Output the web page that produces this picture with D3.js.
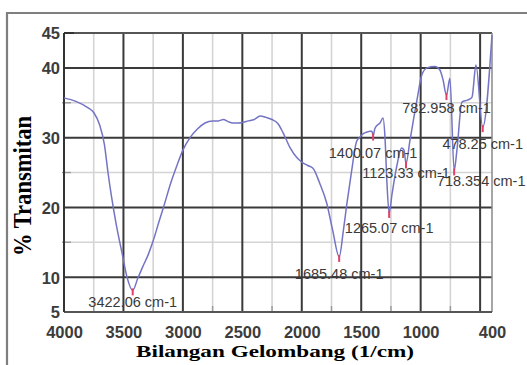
<!DOCTYPE html>
<html><head><meta charset="utf-8">
<script src="https://cdn.jsdelivr.net/npm/d3@7"></script>
<style>
html,body{margin:0;padding:0;background:#fff;}
svg{display:block;}
</style></head>
<body>
<svg id="c" width="527" height="365"></svg>
<script>
// ---- data ----
const wavenumber = [4000,3900,3800,3750,3700,3660,3630,3600,3560,3510,3470,3422.06,3380,3340,3290,3250,3200,3160,3100,3050,3000,2940,2880,2814,2750,2700,2660,2620,2580,2530,2495,2450,2400,2350,2300,2250,2200,2160,2100,2040,2000,1950,1906,1850,1790,1740,1685.48,1650,1620,1580,1540,1510,1480,1452,1426,1410,1400.07,1385,1370,1342,1317,1300,1285,1265.07,1240,1200,1160,1140,1123.33,1090,1031,990,947,880,838,812,782.958,754,718.354,695,653,602,568,535,478.25,400];
const transmittance = [35.7,35.2,34.3,33.6,31.8,29.0,25.0,21.5,17.5,13.3,10.0,8.1,9.8,11.4,13.3,15.2,18.0,20.2,23.6,26.0,28.2,30.0,31.2,32.1,32.4,32.4,32.6,32.3,32.1,32.1,32.2,32.4,32.6,33.1,32.9,32.6,32.0,30.8,28.6,27.1,26.5,26.0,25.6,23.5,20.6,16.7,12.9,16.7,20.6,25.3,29.4,30.1,30.6,30.8,30.9,30.9,30.3,31.3,31.7,32.1,32.8,30.0,24.0,19.2,22.0,26.0,28.5,28.2,26.3,29.6,35.4,39.0,40.0,40.2,39.7,38.3,36.1,38.5,25.3,28.2,35.1,35.4,35.8,40.4,31.5,44.7];
const peakWn = [3422.06,1685.48,1400.07,1265.07,1123.33,782.958,718.354,478.25];
const peakLabels = ["3422.06 cm-1","1685.48 cm-1","1400.07 cm-1","1265.07 cm-1","1123.33 cm-1","782.958 cm-1","718.354 cm-1","478.25 cm-1"];
const xTickValues = [4000,3500,3000,2500,2000,1500,1000,400];
const xMajorGrid = [3500,3000,2500,2000,1500,1000,500];
const xMinorGrid = [3750,3250,2750,2250,1750,1250,750];
const yTickValues = [5,10,20,30,40,45];
const yMajorGrid = [10,20,30,40];
const yMinorGrid = [15,25,35];
const xTitle = "Bilangan Gelombang (1/cm)";
const yTitle = "% Transmitan";

// ---- layout ----
const svg = d3.select("#c");
const L = 64, R = 492, T = 33, B = 312;
const x = d3.scaleLinear().domain([4000,400]).range([L,R]);
const y = d3.scaleLinear().domain([5,45]).range([B,T]);

// outer figure border
svg.append("path").attr("d","M7,365 L7,13 L527,13").attr("fill","none")
  .attr("stroke","#7f7f7f").attr("stroke-width",2.2);

const g = svg.append("g");
// minor grid
g.selectAll(".xm").data(xMinorGrid).join("line")
  .attr("x1",d=>x(d)).attr("x2",d=>x(d)).attr("y1",T).attr("y2",B)
  .attr("stroke","#d4d4d4").attr("stroke-width",1.6);
g.selectAll(".ym").data(yMinorGrid).join("line")
  .attr("x1",L).attr("x2",R).attr("y1",d=>y(d)).attr("y2",d=>y(d))
  .attr("stroke","#d4d4d4").attr("stroke-width",1.6);
// minor ticks near axes
g.selectAll(".xmt").data(xMinorGrid).join("line")
  .attr("x1",d=>x(d)).attr("x2",d=>x(d)).attr("y1",B-6).attr("y2",B)
  .attr("stroke","#999").attr("stroke-width",1.4);
g.selectAll(".ymt").data(yMinorGrid).join("line")
  .attr("x1",L-2).attr("x2",L+7).attr("y1",d=>y(d)).attr("y2",d=>y(d))
  .attr("stroke","#999").attr("stroke-width",1.4);
// major grid
g.selectAll(".xM").data(xMajorGrid).join("line")
  .attr("x1",d=>x(d)).attr("x2",d=>x(d)).attr("y1",T).attr("y2",B)
  .attr("stroke","#3a3a3a").attr("stroke-width",2);
g.selectAll(".yM").data(yMajorGrid).join("line")
  .attr("x1",L).attr("x2",R).attr("y1",d=>y(d)).attr("y2",d=>y(d))
  .attr("stroke","#3a3a3a").attr("stroke-width",2);
// frame
g.append("line").attr("x1",L).attr("x2",R).attr("y1",T).attr("y2",T).attr("stroke","#555").attr("stroke-width",2);
g.append("line").attr("x1",R).attr("x2",R).attr("y1",T).attr("y2",B).attr("stroke","#888").attr("stroke-width",1.5);
g.append("line").attr("x1",L).attr("x2",R).attr("y1",B).attr("y2",B).attr("stroke","#555").attr("stroke-width",2);
g.append("line").attr("x1",L).attr("x2",L).attr("y1",T).attr("y2",B).attr("stroke","#333").attr("stroke-width",2);
g.append("line").attr("x1",L).attr("x2",L+10).attr("y1",T).attr("y2",T).attr("stroke","#333").attr("stroke-width",2);

// axes tick labels via d3 axes
const xAxis = d3.axisBottom(x).tickValues(xTickValues).tickSize(0).tickPadding(0).tickFormat(d3.format("d"));
const xa = svg.append("g").attr("transform",`translate(0,${B})`).call(xAxis);
xa.select(".domain").remove();
xa.selectAll("text").attr("dy",null).attr("y",26)
  .attr("font-family","Liberation Sans, Arial, sans-serif").attr("font-size",16.5)
  .attr("font-weight","bold").attr("fill","#3c3c3c");
const yAxis = d3.axisLeft(y).tickValues(yTickValues).tickSize(0).tickPadding(4).tickFormat(d3.format("d"));
const ya = svg.append("g").attr("transform",`translate(${L},0)`).call(yAxis);
ya.select(".domain").remove();
ya.selectAll("text").attr("dy","0.36em")
  .attr("font-family","Liberation Sans, Arial, sans-serif").attr("font-size",16.5)
  .attr("font-weight","bold").attr("fill","#3c3c3c");

// spectrum
const line = d3.line().x((d,i)=>x(wavenumber[i])).y(d=>y(d)).curve(d3.curveMonotoneX);
svg.append("path").datum(transmittance).attr("d",line)
  .attr("fill","none").attr("stroke","#7474c4").attr("stroke-width",1.5);

// peak markers
const peakVal = peakWn.map(w=>transmittance[wavenumber.indexOf(w)]);
svg.selectAll(".pk").data(peakWn).join("line")
  .attr("x1",d=>x(d)).attr("x2",d=>x(d))
  .attr("y1",(d,i)=>y(peakVal[i])-2).attr("y2",(d,i)=>y(peakVal[i])+5)
  .attr("stroke","#e0406a").attr("stroke-width",2);

// peak labels (offsets relative to the peak point)
const labelDx = [0,0,0,0,0,0,27,0];
const labelDy = [17,22,22,20,15,18,16,22];
svg.selectAll(".pl").data(peakLabels).join("text")
  .attr("x",(d,i)=>x(peakWn[i])+labelDx[i])
  .attr("y",(d,i)=>y(peakVal[i])+labelDy[i])
  .attr("text-anchor","middle")
  .attr("font-family","Liberation Sans, Arial, sans-serif").attr("font-size",14.5)
  .attr("fill","#3a3a3a").text(d=>d);

// titles
svg.append("text").attr("x",275).attr("y",357).attr("text-anchor","middle")
  .attr("font-family","Liberation Serif, Times New Roman, serif").attr("font-weight","bold")
  .attr("font-size",17).attr("textLength",278).attr("lengthAdjust","spacingAndGlyphs")
  .attr("fill","#000").text(xTitle);
svg.append("text").attr("transform","translate(31,186) scale(1.2,1) rotate(-90)")
  .attr("text-anchor","middle")
  .attr("font-family","Liberation Serif, Times New Roman, serif").attr("font-weight","bold")
  .attr("font-size",21).attr("textLength",140).attr("lengthAdjust","spacingAndGlyphs")
  .attr("fill","#000").text(yTitle);
</script>
</body></html>
